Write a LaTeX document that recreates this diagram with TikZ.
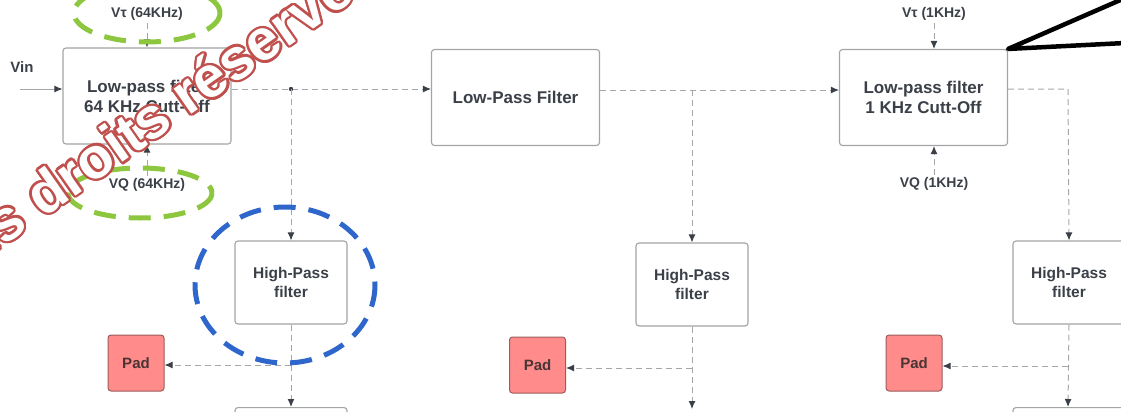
\documentclass[tikz,border=0pt]{standalone}
\usepackage{fontspec}
\setmainfont{Liberation Sans}
\usetikzlibrary{arrows.meta,shapes.geometric}
\definecolor{txt}{HTML}{3B4048}
\definecolor{boxline}{HTML}{A4A4A4}
\definecolor{linkc}{HTML}{A6A6A6}
\definecolor{padfill}{HTML}{FF8B8B}
\definecolor{padline}{HTML}{9C5C5C}
\definecolor{padtxt}{HTML}{4A3434}
\definecolor{ringgreen}{HTML}{8DC63F}
\definecolor{ringblue}{HTML}{2F66CC}
\definecolor{wmred}{HTML}{C0504D}
\tikzset{
  filterbox/.style={draw=boxline, fill=white, rounded corners=3pt, line width=1.1pt,
    minimum width=168pt, minimum height=96pt, align=center, text=txt,
    font=\bfseries\fontsize{17}{20}\selectfont},
  hpbox/.style={filterbox, minimum width=112pt, minimum height=83pt,
    font=\bfseries\fontsize{15.5}{19}\selectfont},
  padbox/.style={draw=padline, fill=padfill, rounded corners=3pt, line width=1pt,
    minimum size=56pt, text=padtxt, font=\bfseries\fontsize{15}{18}\selectfont},
  lbl/.style={text=txt, font=\bfseries\fontsize{14}{16}\selectfont, inner sep=2pt},
  link/.style={draw=linkc, line width=1pt, dash pattern=on 6pt off 4pt,
    -{Latex[length=8pt,width=7pt,color=txt]}},
  ring/.style={line width=5pt, dash pattern=on 22pt off 13pt},
  wmark/.style={font=\bfseries\fontsize{58}{64}\selectfont, rotate=35, inner sep=0pt}
}
\begin{document}
\begin{tikzpicture}[x=1pt,y=-1pt]
  \useasboundingbox (0,0) rectangle (1121,412);
  \clip (0,0) rectangle (1121,412);
  % filter chain
  \node[filterbox] (lp64) at (147,96) {Low-pass filter\\64 KHz Cutt-Off};
  \node[filterbox] (lpmid) at (515.5,97.5) {Low-Pass Filter};
  \node[filterbox] (lp1k) at (923.5,97.5) {Low-pass filter\\1 KHz Cutt-Off};
  \node[hpbox] (hpa) at (291,282.5) {High-Pass\\filter};
  \node[hpbox] (hpb) at (692,284.5) {High-Pass\\filter};
  \node[hpbox] (hpc) at (1069,282.5) {High-Pass\\filter};
  \node[padbox] (pada) at (136,363) {Pad};
  \node[padbox] (padb) at (537.5,365) {Pad};
  \node[padbox] (padc) at (914,363) {Pad};
  \node[hpbox, anchor=north] (nexta) at (291,407) {};
  \node[hpbox, anchor=north] (nextc) at (1069,407) {};
  % inputs
  \node[text=txt, font=\bfseries\fontsize{15}{18}\selectfont] (vin) at (22,67) {Vin};
  \node[lbl] (vt64) at (147,14) {Vτ (64KHz)};
  \node[lbl] (vq64) at (147,185) {VQ (64KHz)};
  \node[lbl] (vt1k) at (934,14) {Vτ (1KHz)};
  \node[lbl] (vq1k) at (934,184) {VQ (1KHz)};
  \coordinate (vinstart) at (20,89);
  \coordinate (taps) at (291,89);
  \coordinate (tapb) at (692,90);
  \coordinate (tapc) at (1068,89);
  \coordinate (ja) at (291,365);
  \coordinate (jb) at (692,368);
  \coordinate (jc) at (1068,366);
  \coordinate (enda) at (291,407);
  \coordinate (endb) at (692,409);
  \coordinate (endc) at (1068,407);
  \draw[link, solid] (vinstart) -- (vinstart -| lp64.west);
  \draw[link] (vt64.south) -- (vt64.south |- lp64.north);
  \draw[link] (vq64.north) -- (vq64.north |- lp64.south);
  \draw[link] (vt1k.south) -- (vt1k.south |- lp1k.north);
  \draw[link] (vq1k.north) -- (vq1k.north |- lp1k.south);
  \draw[link] (taps -| lp64.east) -- (taps -| lpmid.west);
  \fill[txt] (taps) circle (2.2pt);
  \draw[link] (taps) -- (hpa.north);
  \draw[link] (tapb -| lpmid.east) -- (tapb -| lp1k.west);
  \draw[link] (tapb) -- (hpb.north);
  \draw[link] (tapc -| lp1k.east) -- (tapc) -- (hpc.north);
  \draw[link] (hpa.south) -- (enda);
  \draw[link] (hpb.south) -- (endb);
  \draw[link] (hpc.south) -- (endc);
  \draw[link] (ja) -- (ja -| pada.east);
  \draw[link] (jb) -- (jb -| padb.east);
  \draw[link] (jc) -- (jc -| padc.east);
  % callout
  \coordinate (calla) at (1125,-2);
  \coordinate (callb) at (1125,43);
  \draw[line width=4.5pt, line join=round] (calla) -- (lp1k.north east) -- (callb);
  % highlights
  \draw[ring, ringgreen] (147,13) ellipse (73 and 29);
  \draw[ring, ringgreen] (140,193) ellipse (72 and 25);
  \draw[ring, ringblue] (285,285) ellipse (90 and 78);
  % watermark
  \coordinate (wm) at (140,125);
  \foreach \a in {0,20,...,340}
    \node[wmark, text=wmred] at ([shift={(\a:2.3pt)}]wm) {Tous droits réservés};
  \node[wmark, text=white] at (wm) {Tous droits réservés};
\end{tikzpicture}
\end{document}
